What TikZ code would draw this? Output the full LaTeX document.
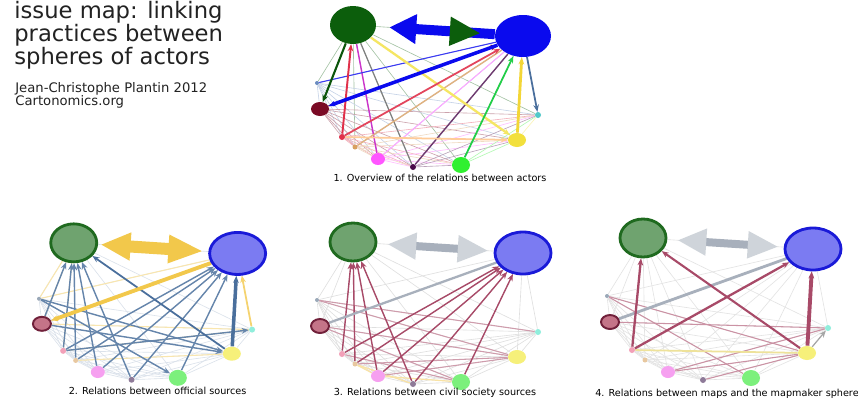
\documentclass[tikz,border=0pt]{standalone}
\usepackage{fontspec}
\setmainfont{DejaVu Sans}
\usepackage{xcolor}
\usetikzlibrary{%
	arrows.meta,%
	shapes.geometric,%
	backgrounds,calc
}

% full colours (overview) and pale colours (the three detail maps)
\definecolor{cG}{HTML}{0C5E0C}
\definecolor{cB}{HTML}{0A0AEE}
\definecolor{cT}{HTML}{6A8CC0}
\definecolor{cM}{HTML}{7A0A25}
\definecolor{cR}{HTML}{E0304A}
\definecolor{cO}{HTML}{D8A060}
\definecolor{cP}{HTML}{FF55FF}
\definecolor{cV}{HTML}{4A0A4A}
\definecolor{cL}{HTML}{30F030}
\definecolor{cY}{HTML}{F2E03C}
\definecolor{cC}{HTML}{50C8C8}
\definecolor{pG}{HTML}{6FA36F}
\definecolor{pGline}{HTML}{1F6A1F}
\definecolor{pB}{HTML}{7B7BF2}
\definecolor{pBline}{HTML}{1A1AD8}
\definecolor{pM}{HTML}{C47488}
\definecolor{pMline}{HTML}{70203A}
\definecolor{pT}{HTML}{9AA8B8}
\definecolor{pR}{HTML}{F2A0B8}
\definecolor{pO}{HTML}{E8C8A0}
\definecolor{pP}{HTML}{F6A0F0}
\definecolor{pV}{HTML}{8E7A98}
\definecolor{pL}{HTML}{7CF07C}
\definecolor{pY}{HTML}{F6F07A}
\definecolor{pC}{HTML}{90EEDC}
\definecolor{steel}{HTML}{4A6F9C}
\definecolor{gold}{HTML}{F2C84B}
\definecolor{wine}{HTML}{A84A68}
\definecolor{haze}{HTML}{A8B0BC}
\definecolor{straw}{HTML}{EEE29A}
\definecolor{ink}{HTML}{222222}

\tikzset{
	actor/.style={ellipse, inner sep=0pt, draw=none},
	full G/.style={fill=cG}, full B/.style={fill=cB}, full T/.style={fill=cT},
	full M/.style={fill=cM}, full R/.style={fill=cR}, full O/.style={fill=cO},
	full P/.style={fill=cP}, full V/.style={fill=cV}, full L/.style={fill=cL},
	full Y/.style={fill=cY}, full C/.style={fill=cC},
	pale G/.style={fill=pG, draw=pGline, line width=1.6pt},
	pale B/.style={fill=pB, draw=pBline, line width=1.6pt},
	pale M/.style={fill=pM, draw=pMline, line width=1.1pt},
	pale T/.style={fill=pT}, pale R/.style={fill=pR},
	pale O/.style={fill=pO}, pale P/.style={fill=pP},
	pale V/.style={fill=pV}, pale L/.style={fill=pL},
	pale Y/.style={fill=pY}, pale C/.style={fill=pC},
	lnk/.style={line width=0.8pt},
	tip/.style={-{Stealth[length=4pt,width=3.2pt]}},
	heading/.style={anchor=north west, inner sep=0pt, align=left, text=ink,
		font=\fontsize{12.9pt}{13pt}\selectfont},
	credit/.style={anchor=north west, inner sep=0pt, align=left, text=ink,
		font=\fontsize{7.5pt}{7.6pt}\selectfont},
	caption/.style={inner sep=0pt, font=\fontsize{5.5pt}{6.5pt}\selectfont},
}

% the eleven spheres, always in the same ring
\newcommand{\actors}[2]{%
	\foreach \n/\x/\y/\w/\h in {G/63/32/46/38,B/233/43/56/42,T/27/90/4/4,M/30/116/18/14,R/52/144/6/6,O/65/154/5/5,P/88/166/14/12,V/123/174/6/6,L/171/172/18/16,Y/227/147/18/14,C/248/122/6/6}
		\node[actor, minimum width=\w*0.02cm, minimum height=\h*0.02cm, #2 \n] (#1\n) at (\x,\y) {};
}
% faint links between every pair
\newcommand{\mesh}[2]{%
	\foreach \a [count=\i] in {G,B,T,M,R,O,P,V,L,Y,C}
		\foreach \b [count=\j] in {G,B,T,M,R,O,P,V,L,Y,C}
			{\ifnum\j>\i \draw[#2] (#1\a) -- (#1\b); \fi}
}

\begin{document}
\begin{tikzpicture}[x=0.02cm, y=-0.02cm, >=Stealth]
	\useasboundingbox (0,0) rectangle (858,400);
	\begin{scope}[on background layer]
		\fill[white] (0,0) rectangle (858,400);
	\end{scope}

	\node[heading] (title) at (14,1) {issue map: linking\\practices between\\spheres of actors};
	\node[credit] (author) at (15,82) {Jean-Christophe Plantin 2012\\Cartonomics.org};

	% 1. overview
	\begin{scope}[shift={(290,-7)}]
		\actors{a}{full}
		\node[caption] (capa) at (150,185) {1. Overview of the relations between actors};
	\end{scope}
	\begin{scope}[on background layer]
		\mesh{a}{draw=c\a!38, line width=0.35pt}
		\draw[lnk, cP!60!violet] (aP) -- (aG);
		\draw[lnk, gray, line width=0.7pt] (aV) -- (aG);
		\draw[lnk, cV!80] (aV) -- (aB);
		\draw[lnk, cO!80] (aO) -- (aB);
		\draw[lnk, cP!50, line width=0.6pt] (aP) -- (aB);
		\draw[lnk, cB!80, line width=0.6pt] (aB) -- (aT);
		\draw[lnk, tip, orange!40, line width=1pt] (aR) -- (aY);
		\draw[lnk, tip, cY!80, line width=1.3pt] (aG) -- (aY);
		\draw[lnk, tip, cL!70!teal, line width=1pt] (aL) -- (aB);
		\draw[lnk, tip, cY!90!orange, line width=1.6pt] (aY) -- (aB);
		\draw[lnk, tip, steel, line width=1pt] (aB) -- (aC);
		\draw[lnk, tip, cM, line width=0.7pt] (aM) -- (aB);
		\draw[lnk, tip, cR, line width=1.1pt] (aR) -- (aG);
		\draw[lnk, tip, cR!90, line width=1pt] (aR) -- (aB);
		\draw[lnk, tip, cG!90!black, line width=1.2pt] (aG) -- (aM);
		\draw[lnk, tip, cB, line width=2pt] (aB) -- (aM);
		\draw[cB, line width=0.2cm, -{Triangle[length=0.54cm,width=0.56cm]}, shorten >=0.26cm] (aB) -- (aG);
		\draw[cB, line width=1pt, -{Triangle[length=0.6cm,width=0.58cm,color=cG,fill=cG]}, shorten >=0.3cm] ($(aG)!0.45!(aB)$) -- (aB);
	\end{scope}

	% 2. official sources
	\begin{scope}[shift={(13,212)}, scale=0.964]
		\actors{b}{pale}
		\node[caption] (capb) at (150,186) {2. Relations between official sources};
	\end{scope}
	\begin{scope}[on background layer]
		\mesh{b}{draw=steel!20, line width=0.35pt}
		\foreach \s/\t in {G/T,G/M,T/B,R/C,O/Y,M/C,G/R}
			\draw[lnk, gold!45, line width=0.6pt] (b\s) -- (b\t);
		\foreach \s/\t in {R/G,O/G,P/G,V/G,M/G,R/B,O/B,P/B,V/B,L/B,M/Y,T/Y,T/L,R/C}
			\draw[lnk, tip, steel!85, line width=0.8pt] (b\s) -- (b\t);
		\draw[lnk, tip, steel, line width=1pt] (bY) -- (bG);
		\draw[lnk, tip, steel, line width=2pt] (bY) -- (bB);
		\draw[lnk, tip, gold!80, line width=1pt] (bC) -- (bB);
		\draw[lnk, tip, gold, line width=2.2pt] (bB) -- (bM);
		\draw[gold, line width=0.24cm, {Triangle[length=0.6cm,width=0.52cm]}-{Triangle[length=0.7cm,width=0.52cm]}, shorten <=0.05cm, shorten >=0.1cm] (bG) -- (bB);
	\end{scope}

	% 3. civil society sources
	\begin{scope}[shift={(290,210)}]
		\actors{c}{pale}
		\node[caption] (capc) at (145,183) {3. Relations between civil society sources};
	\end{scope}
	\begin{scope}[on background layer]
		\mesh{c}{draw=gray!25, line width=0.35pt}
		\foreach \s/\t in {O/V,P/L,O/P}
			\draw[lnk, gold!50, line width=0.7pt] (c\s) -- (c\t);
		\foreach \s/\t in {T/Y,M/Y,R/L,M/L,T/C,O/Y,P/Y}
			\draw[lnk, wine!55, line width=0.6pt] (c\s) -- (c\t);
		\foreach \s/\t in {R/G,O/G,P/G,V/G,R/B,O/B,P/B,V/B,L/B}
			\draw[lnk, tip, wine, line width=0.8pt] (c\s) -- (c\t);
		\draw[lnk, haze, line width=1.3pt] (cM) -- (cB);
		\draw[haze, line width=0.16cm, {Triangle[length=0.58cm,width=0.5cm,color=haze!55,fill=haze!55]}-{Triangle[length=0.62cm,width=0.5cm,color=haze!55,fill=haze!55]}, shorten <=0.2cm, shorten >=0.1cm] (cG) -- (cB);
	\end{scope}

	% 4. maps and the mapmaker sphere
	\begin{scope}[shift={(580,206)}]
		\actors{d}{pale}
		\node[caption] (capd) at (147,188) {4. Relations between maps and the mapmaker sphere};
	\end{scope}
	\begin{scope}[on background layer]
		\mesh{d}{draw=gray!22, line width=0.35pt}
		\foreach \s/\t in {Y/T,Y/P,Y/V,M/C,P/C,T/L}
			\draw[lnk, wine!60, line width=0.6pt] (d\s) -- (d\t);
		\draw[lnk, straw, line width=1pt] (dY) -- (dR);
		\draw[lnk, tip, gray!70, line width=0.7pt] (dY) -- (dC);
		\draw[lnk, haze, line width=1.6pt] (dM) -- (dB);
		\draw[lnk, tip, wine, line width=1.3pt] (dR) -- (dG);
		\draw[lnk, tip, wine, line width=1.3pt] (dR) -- (dB);
		\draw[lnk, tip, wine, line width=1.2pt] (dY) -- (dG);
		\draw[lnk, tip, wine, line width=2.2pt] (dY) -- (dB);
		\draw[haze, line width=0.16cm, {Triangle[length=0.58cm,width=0.5cm,color=haze!55,fill=haze!55]}-{Triangle[length=0.62cm,width=0.5cm,color=haze!55,fill=haze!55]}, shorten <=0.2cm, shorten >=0.1cm] (dG) -- (dB);
	\end{scope}
\end{tikzpicture}
\end{document}
